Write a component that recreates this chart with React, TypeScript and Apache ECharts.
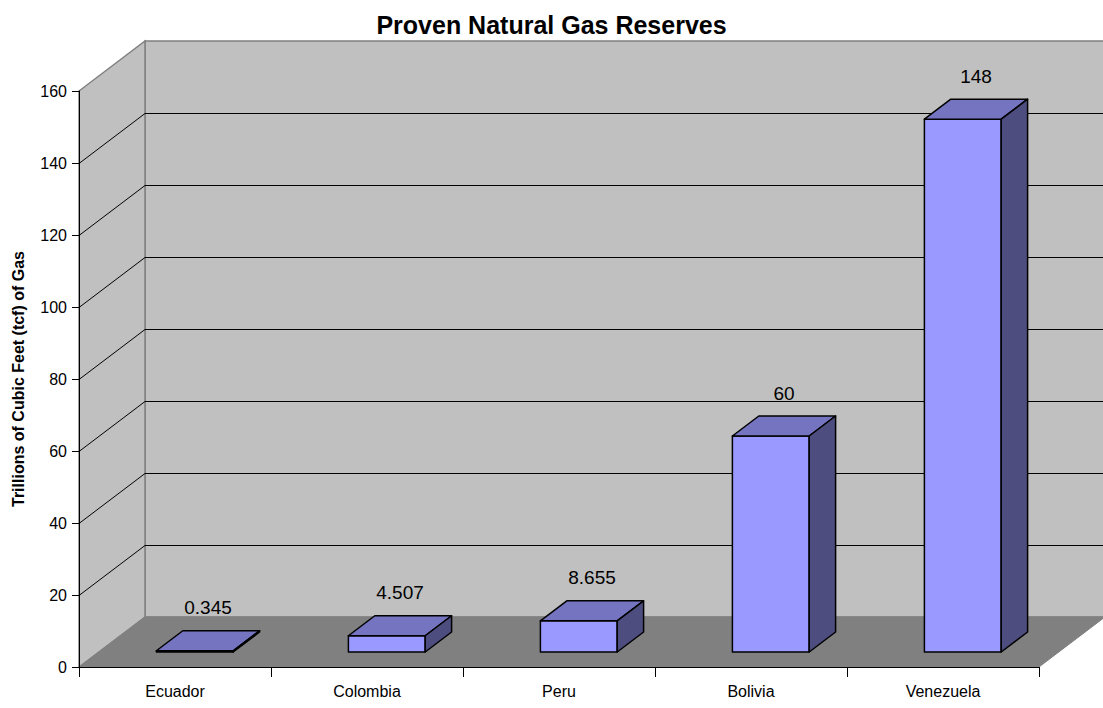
import React, { useEffect, useRef } from "react";
import * as echarts from "echarts";

const categories = ["Ecuador", "Colombia", "Peru", "Bolivia", "Venezuela"];
const reserves = [0.345, 4.507, 8.655, 60, 148];
const yTicks = [0, 20, 40, 60, 80, 100, 120, 140, 160];
const chartTitle = "Proven Natural Gas Reserves";
const yTitle = "Trillions of Cubic Feet (tcf) of Gas";

const DX = 66;
const DY = -50;
const FRONT = 0.3;
const BACK = 0.7;
const BAR_W = 0.4;
const FONT = "'Liberation Sans', Arial, sans-serif";

export default function App() {
  const ref = useRef<HTMLDivElement>(null);
  useEffect(() => {
    const chart = echarts.init(ref.current!, null, { renderer: "svg" });
    const yMin = yTicks[0];
    const yMax = yTicks[yTicks.length - 1];
    const option: any = {
      animation: false,
      backgroundColor: "#ffffff",
      title: {
        text: chartTitle,
        left: "center",
        top: 7,
        textStyle: { fontFamily: FONT, fontSize: 25, fontWeight: "bold", color: "#000" },
      },
      grid: { left: 79, right: 64, top: 91, bottom: 41, containLabel: false, outerBoundsMode: "none" },
      xAxis: {
        type: "category",
        data: categories,
        boundaryGap: true,
        z: 10,
        axisLine: { show: true, lineStyle: { color: "#000", width: 1 } },
        axisTick: { show: true, length: 10, lineStyle: { color: "#000" } },
        axisLabel: { color: "#000", fontSize: 16, fontFamily: FONT, margin: 16 },
        splitLine: { show: false },
      },
      yAxis: {
        type: "value",
        min: yMin,
        max: yMax,
        interval: 20,
        z: 10,
        name: yTitle,
        nameLocation: "middle",
        nameGap: 53,
        nameRotate: 90,
        nameTextStyle: { fontFamily: FONT, fontSize: 16, fontWeight: "bold", color: "#000" },
        axisLine: { show: true, lineStyle: { color: "#000", width: 1 } },
        axisTick: { show: true, length: 7, lineStyle: { color: "#000" } },
        axisLabel: { color: "#000", fontSize: 16, fontFamily: FONT, margin: 12 },
        splitLine: { show: false },
      },
      series: [
        {
          type: "custom",
          z: 1,
          silent: true,
          data: [[0, 0]],
          renderItem: (params: any, api: any) => {
            const cs = params.coordSys;
            const x0 = cs.x;
            const x1 = cs.x + cs.width;
            const yb = cs.y + cs.height;
            const yt = cs.y;
            const children: any[] = [];
            children.push({
              type: "polygon",
              shape: { points: [[x0 + DX, yb + DY], [x0 + DX, yt + DY], [x1 + DX, yt + DY], [x1 + DX, yb + DY]] },
              style: { fill: "#C0C0C0", stroke: "#808080", lineWidth: 1.5 },
            });
            children.push({
              type: "polygon",
              shape: { points: [[x0, yb], [x0, yt], [x0 + DX, yt + DY], [x0 + DX, yb + DY]] },
              style: { fill: "#C0C0C0", stroke: "#808080", lineWidth: 1.5 },
            });
            for (const v of yTicks) {
              if (v === yMin || v === yMax) continue;
              const y = Math.round(api.coord([0, v])[1]) + 0.5;
              children.push({
                type: "line",
                shape: { x1: x0, y1: y, x2: x0 + DX, y2: y + DY },
                style: { stroke: "#000", lineWidth: 1 },
              });
              children.push({
                type: "line",
                shape: { x1: x0 + DX, y1: y + DY, x2: x1 + DX, y2: y + DY },
                style: { stroke: "#000", lineWidth: 1 },
              });
            }
            children.push({
              type: "polygon",
              shape: { points: [[x0, yb], [x1, yb], [x1 + DX, yb + DY], [x0 + DX, yb + DY]] },
              style: { fill: "#808080", stroke: "#808080", lineWidth: 1 },
            });
            return { type: "group", children };
          },
        },
        {
          type: "custom",
          z: 3,
          data: reserves.map((v, i) => [i, v]),
          renderItem: (params: any, api: any) => {
            const i = api.value(0);
            const v = api.value(1);
            const base = api.coord([i, 0]);
            const top = api.coord([i, v]);
            const band = api.size([1, 0])[0];
            const w = band * BAR_W;
            const fx = DX * FRONT;
            const fy = DY * FRONT;
            const ddx = DX * (BACK - FRONT);
            const ddy = DY * (BACK - FRONT);
            const xl = base[0] - w / 2 + fx;
            const xr = xl + w;
            const yb = base[1] + fy;
            const yt = top[1] + fy;
            const stroke = { stroke: "#000", lineWidth: 1.5, lineJoin: "round" };
            return {
              type: "group",
              children: [
                {
                  type: "polygon",
                  shape: { points: [[xl, yb], [xr, yb], [xr, yt], [xl, yt]] },
                  style: { fill: "#9999FF", ...stroke },
                },
                {
                  type: "polygon",
                  shape: { points: [[xl, yt], [xr, yt], [xr + ddx, yt + ddy], [xl + ddx, yt + ddy]] },
                  style: { fill: "#7474C0", ...stroke },
                },
                {
                  type: "polygon",
                  shape: { points: [[xr, yt], [xr + ddx, yt + ddy], [xr + ddx, yb + ddy], [xr, yb]] },
                  style: { fill: "#4D4D80", ...stroke },
                },
                {
                  type: "text",
                  x: base[0] + DX * 0.5,
                  y: yt + ddy - 23,
                  style: {
                    text: String(reserves[i]),
                    fontFamily: FONT,
                    fontSize: 19,
                    fill: "#000",
                    align: "center",
                    verticalAlign: "middle",
                  },
                },
              ],
            };
          },
        },
      ],
    };
    chart.setOption(option);
    return () => chart.dispose();
  }, []);
  return (
    <div
      ref={ref}
      style={{ position: "fixed", left: 0, top: 0, width: 1103, height: 708, background: "#fff" }}
    />
  );
}
